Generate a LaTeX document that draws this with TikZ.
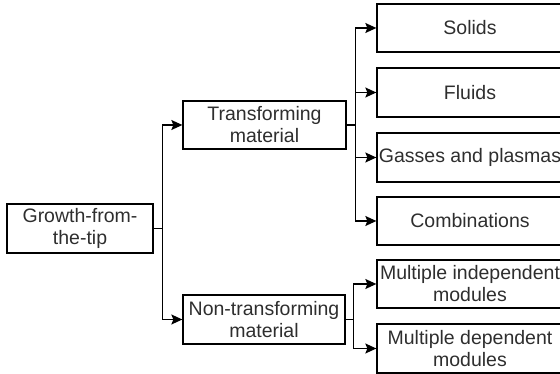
\documentclass[tikz,border=0pt]{standalone}
\usepackage{fontspec}
\setmainfont{Liberation Sans}
\usetikzlibrary{arrows.meta}
\begin{document}
\begin{tikzpicture}[x=1pt,y=-1pt,
  box/.style={draw=black,line width=1.3pt,rectangle,align=center,inner sep=0pt,
    font=\fontsize{19.5}{22}\selectfont,text=black!82},
  conn/.style={draw=black,line width=1.3pt,-{Stealth[length=11pt,width=10pt,inset=2pt]}}]
\useasboundingbox (0,0) rectangle (560,374);
\clip (0,0) rectangle (560,374);
\node[box,minimum width=146pt,minimum height=49pt] (g) at (80,228.5) {Growth-from-\\the-tip};
\node[box,minimum width=163pt,minimum height=48pt] (t) at (264.5,125) {Transforming\\material};
\node[box,minimum width=162pt,minimum height=49pt] (n) at (264,319.5) {Non-transforming\\material};
\node[box,minimum width=186pt,minimum height=48pt] (s) at (470,28) {Solids};
\node[box,minimum width=186pt,minimum height=49pt] (f) at (470,92.5) {Fluids};
\node[box,minimum width=186pt,minimum height=49pt] (gp) at (470,157.5) {Gasses and plasmas};
\node[box,minimum width=186pt,minimum height=48pt] (c) at (470,221) {Combinations};
\node[box,minimum width=186pt,minimum height=48pt] (mi) at (470,284) {Multiple independent\\modules};
\node[box,minimum width=186pt,minimum height=49pt] (md) at (470,348.5) {Multiple dependent\\modules};
\draw[conn] (g.east) -- ([xshift=9pt]g.east) |- (t.west);
\draw[conn] (g.east) -- ([xshift=9pt]g.east) |- (n.west);
\draw[conn] (t.east) -- ([xshift=9pt]t.east) |- (s.west);
\draw[conn] (t.east) -- ([xshift=9pt]t.east) |- (f.west);
\draw[conn] (t.east) -- ([xshift=9pt]t.east) |- (gp.west);
\draw[conn] (t.east) -- ([xshift=9pt]t.east) |- (c.west);
\draw[conn] (n.east) -- ([xshift=8pt]n.east) |- (mi.west);
\draw[conn] (n.east) -- ([xshift=8pt]n.east) |- (md.west);
\end{tikzpicture}
\end{document}
